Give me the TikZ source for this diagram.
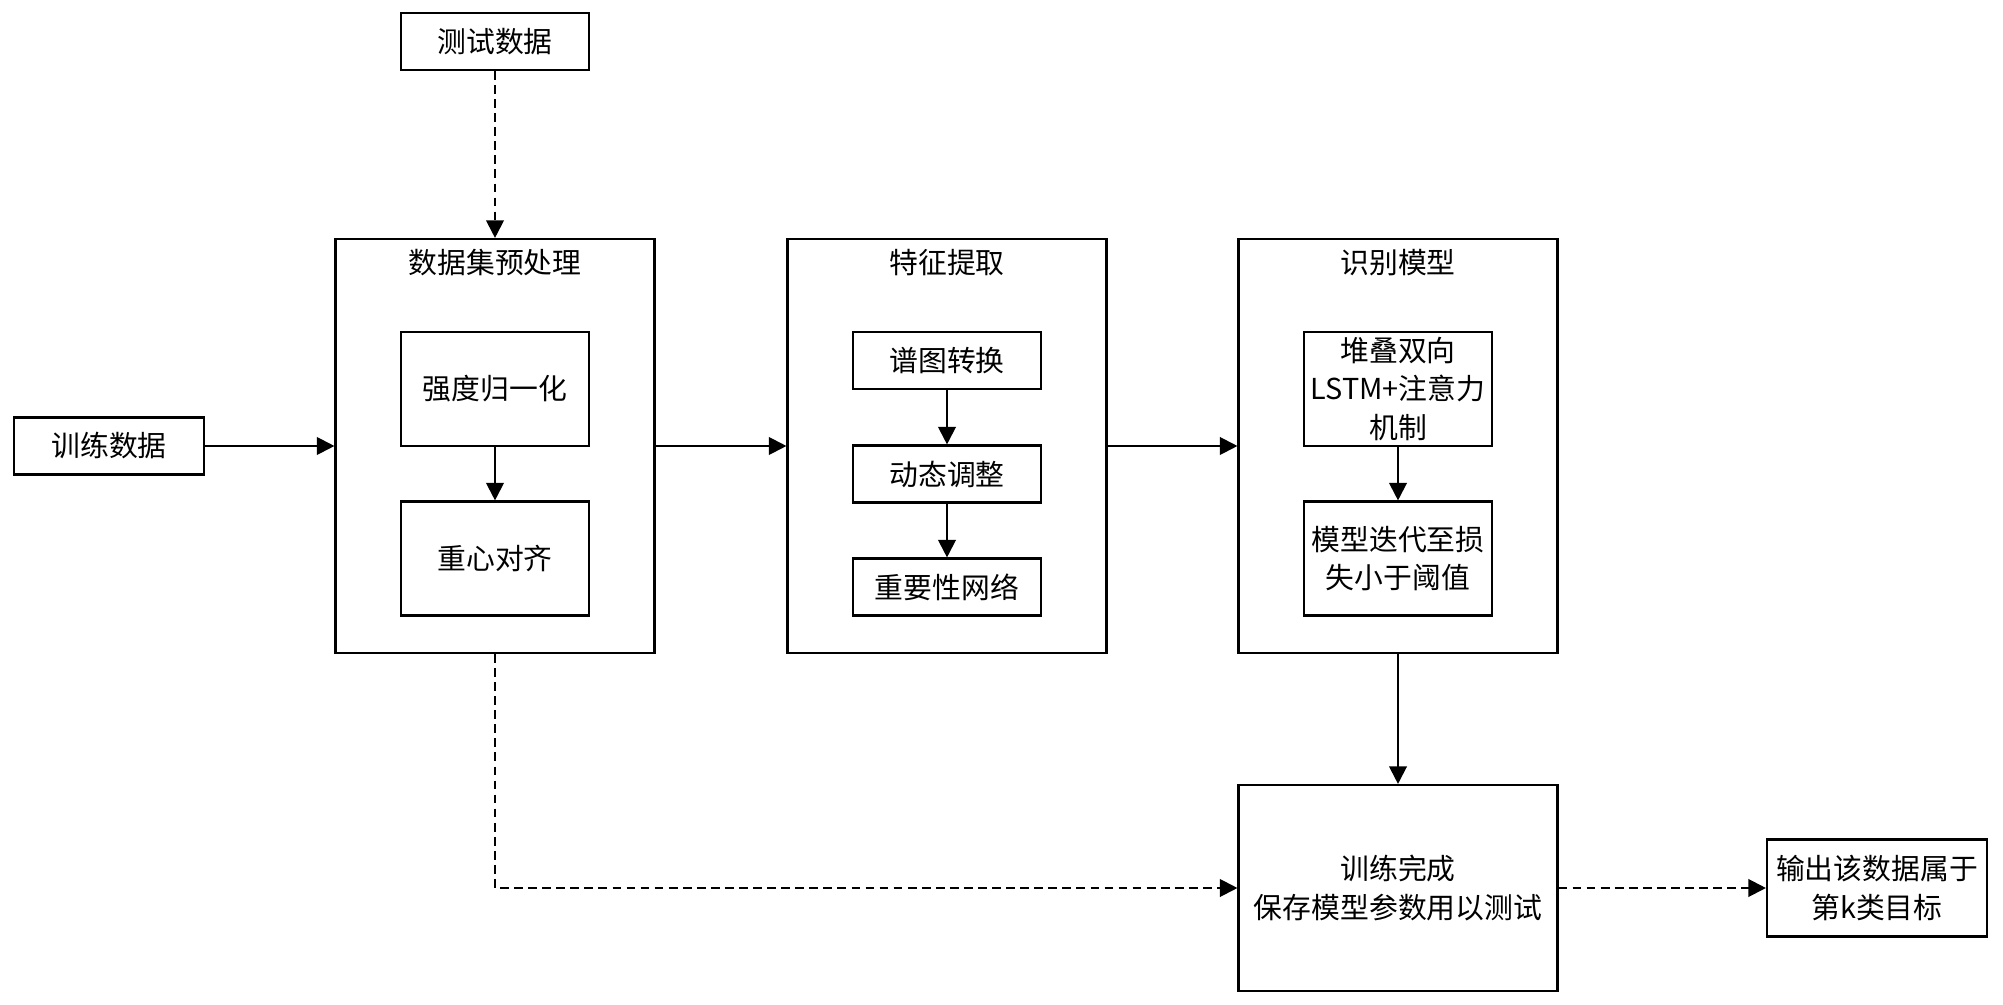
\documentclass[tikz,border=0pt]{standalone}
\usepackage{fontspec}
\setmainfont{Noto Sans CJK SC}
\usetikzlibrary{arrows.meta}

\begin{document}
\begin{tikzpicture}[line width=0.6pt, >={Triangle[length=5pt,width=5pt]}]
		\useasboundingbox (0,0) rectangle (20.03,-10.05);
		\tikzstyle{every node} = [draw, line width=0.6pt, inner sep=0pt, align=center, font=\fontsize{8.2}{11}\selectfont]
		\tikzstyle{small} = [minimum width=1.88cm]
		\tikzstyle{big} = [minimum width=3.19cm, minimum height=4.14cm]
		\tikzstyle{title} = [draw=none]
		% inputs
		\node[small, minimum height=0.57cm] (test) at (4.95,-0.415) {测试数据};
		\node[minimum width=1.90cm, minimum height=0.57cm] (train) at (1.09,-4.46) {训练数据};
		% three stages
		\node[big] (pre) at (4.95,-4.46) {};
		\node[big] (feat) at (9.47,-4.46) {};
		\node[big] (rec) at (13.98,-4.46) {};
		\node[title] (pre-t) at (4.95,-2.63) {数据集预处理};
		\node[title] (feat-t) at (9.47,-2.63) {特征提取};
		\node[title] (rec-t) at (13.98,-2.63) {识别模型};
		% preprocessing
		\node[small, minimum height=1.14cm] (norm) at (4.95,-3.89) {强度归一化};
		\node[small, minimum height=1.14cm] (align) at (4.95,-5.585) {重心对齐};
		% features
		\node[small, minimum height=0.57cm] (spec) at (9.47,-3.605) {谱图转换};
		\node[small, minimum height=0.57cm] (dyn) at (9.47,-4.74) {动态调整};
		\node[small, minimum height=0.57cm] (imp) at (9.47,-5.87) {重要性网络};
		% model
		\node[small, minimum height=1.14cm] (lstm) at (13.98,-3.89) {堆叠双向\\LSTM+注意力\\机制};
		\node[small, minimum height=1.14cm] (iter) at (13.98,-5.585) {模型迭代至损\\失小于阈值};
		% outputs
		\node[minimum width=3.19cm, minimum height=2.06cm] (done) at (13.98,-8.88) {训练完成\\保存模型参数用以测试};
		\node[minimum width=2.20cm, minimum height=0.97cm] (out) at (18.77,-8.88) {输出该数据属于\\第k类目标};
		\foreach \from/\to in {train/pre, pre/feat, feat/rec}
		\draw [->] (\from.east) -- (\to.west);
		\foreach \from/\to in {norm/align, spec/dyn, dyn/imp, lstm/iter, rec/done}
		\draw [->] (\from.south) -- (\to.north);
		\draw [->, dash pattern=on 2.5pt off 1.5pt] (test.south) -- (pre.north);
		\draw [->, dash pattern=on 2.5pt off 1.5pt] (pre.south) |- (done.west);
		\draw [->, dash pattern=on 2.5pt off 1.5pt] (done.east) -- (out.west);
	\end{tikzpicture}
\end{document}
